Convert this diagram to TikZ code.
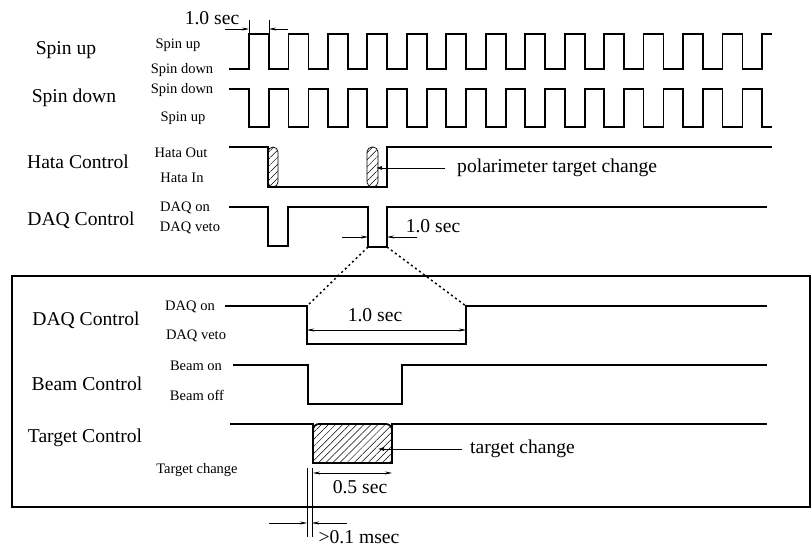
\documentclass[tikz,border=0pt]{standalone}
\usepackage{fontspec}
\setmainfont{Liberation Serif}
\usepackage{tikz}
\usetikzlibrary{arrows.meta,patterns.meta}

\begin{document}
\begin{tikzpicture}[
    x=1pt, y=-1pt,
    >={Stealth[length=7pt,width=3pt]},
    biglabel/.style={font=\fontsize{19.6}{22}\selectfont, inner sep=0pt},
    smalllabel/.style={font=\fontsize{14.5}{16}\selectfont, inner sep=0pt},
    signal/.style={line width=1.8pt},
    dimline/.style={line width=0.6pt},
    dimarrow/.style={->, line width=0.6pt},
    pointer/.style={-{Latex[length=6pt,width=4pt]}, line width=0.6pt},
    hatched/.style={pattern={Lines[angle=45,distance=5pt,line width=0.5pt]}},
    zoomline/.style={line width=1.5pt, dash pattern=on 2pt off 3pt}
  ]
    \useasboundingbox (0,0) rectangle (811,548);

    % signal names
    \node[biglabel] (spinup) at (66,50) {Spin up};
    \node[biglabel] (spindown) at (74,98) {Spin down};
    \node[biglabel] (hata) at (78,162) {Hata Control};
    \node[biglabel] (daq) at (81,220) {DAQ Control};
    \node[biglabel] (daqzoom) at (86,320) {DAQ Control};
    \node[biglabel] (beam) at (87,384) {Beam Control};
    \node[biglabel] (target) at (85,438) {Target Control};

    % levels
    \node[smalllabel] (suhi) at (178,45) {Spin up};
    \node[smalllabel] (sulo) at (182,70) {Spin down};
    \node[smalllabel] (sdhi) at (182,90) {Spin down};
    \node[smalllabel] (sdlo) at (183,118) {Spin up};
    \node[smalllabel] (hataout) at (181,153) {Hata Out};
    \node[smalllabel] (hatain) at (182,178) {Hata In};
    \node[smalllabel] (daqon) at (185,208) {DAQ on};
    \node[smalllabel] (daqveto) at (190,228) {DAQ veto};
    \node[smalllabel] (zoomon) at (190,307) {DAQ on};
    \node[smalllabel] (zoomveto) at (196,336) {DAQ veto};
    \node[smalllabel] (beamon) at (196,366) {Beam on};
    \node[smalllabel] (beamoff) at (197,395) {Beam off};
    \node[smalllabel] (tchange) at (197,470) {Target change};

    % spin flip trains
    \draw[signal] (229,69) foreach \k in {0,...,12} {
      -- ({249+39.45*\k},69) -- ({249+39.45*\k},34) -- ({269+39.45*\k},34) -- ({269+39.45*\k},69)
    } -- (762,69) -- (762,34) -- (772,34);
    \draw[signal] (229,89) foreach \k in {0,...,12} {
      -- ({249+39.45*\k},89) -- ({249+39.45*\k},127) -- ({269+39.45*\k},127) -- ({269+39.45*\k},89)
    } -- (762,89) -- (762,127) -- (772,127);

    \coordinate (flipa) at (249,34);
    \coordinate (flipb) at (269,34);
    \draw[dimline] (flipa) -- ++(0,-14);
    \draw[dimline] (flipb) -- ++(0,-14);
    \draw[dimarrow] ([shift={(-24,-5)}]flipa) -- ++(24,0);
    \draw[dimarrow] ([shift={(19,-5)}]flipb) -- ++(-19,0);
    \node[biglabel] (flipsec) at (212,18) {1.0 sec};

    % hata
    \draw[hatched, line width=0.7pt, rounded corners=5pt] (268,147) rectangle (278,187);
    \draw[hatched, line width=0.7pt, rounded corners=5pt] (367,147) rectangle (378,187);
    \draw[signal] (229,147) -- (268,147) -- (268,187) -- (387,187) -- (387,147) -- (772,147);
    \node[biglabel, anchor=west] (polar) at (457,168) {polarimeter target change};
    \coordinate (hatatip) at (376,168);
    \draw[pointer] ([xshift=-12pt]polar.west) -- (hatatip);

    % daq
    \draw[signal] (229,207) -- (268,207) -- (268,246) -- (288,246) -- (288,207)
      -- (368,207) -- (368,247) -- (387,247) -- (387,207) -- (767,207);
    \coordinate (vetoa) at (368,247);
    \coordinate (vetob) at (387,247);
    \draw[dimarrow] ([shift={(-26,-10)}]vetoa) -- ++(26,0);
    \draw[dimarrow] ([shift={(30,-10)}]vetob) -- ++(-30,0);
    \node[biglabel] (vetosec) at (433,226) {1.0 sec};

    % zoomed window
    \draw[line width=1.4pt] (12,276) rectangle (810,507);
    \coordinate (zooma) at (307,306);
    \coordinate (zoomb) at (466,306);
    \draw[zoomline] (vetoa) -- (zooma);
    \draw[zoomline] (vetob) -- (zoomb);

    \draw[signal] (225,306) -- (zooma) -- (307,344) -- (466,344) -- (zoomb) -- (767,306);
    \draw[<->, dimline] (307,330) -- (466,330);
    \node[biglabel] (zoomsec) at (375,315) {1.0 sec};

    \draw[signal] (233,365) -- (308,365) -- (308,404) -- (402,404) -- (402,365) -- (767,365);

    \draw[hatched, signal] (313,463) -- (313,440) [rounded corners=6pt] -- (313,424) -- (392,424)
      -- (392,440) [sharp corners] -- (392,463) -- cycle;
    \draw[signal] (230,424) -- (313,424) -- (313,463) -- (392,463) -- (392,424) -- (767,424);
    \node[biglabel, anchor=west] (tgtlabel) at (470,449) {target change};
    \coordinate (tgttip) at (378,449);
    \draw[pointer] ([xshift=-8pt]tgtlabel.west) -- (tgttip);

    \draw[<->, dimline] (313,473) -- (392,473);
    \node[biglabel] (halfsec) at (360,487) {0.5 sec};

    \coordinate (gapa) at (307,468);
    \coordinate (gapb) at (312,468);
    \draw[dimline] (gapa) -- ++(0,69);
    \draw[dimline] (gapb) -- ++(0,69);
    \draw[dimarrow] ([shift={(-38,55)}]gapa) -- ++(38,0);
    \draw[dimarrow] ([shift={(35,55)}]gapb) -- ++(-35,0);
    \node[biglabel] (gapsec) at (359,537) {>0.1 msec};
  \end{tikzpicture}
\end{document}
